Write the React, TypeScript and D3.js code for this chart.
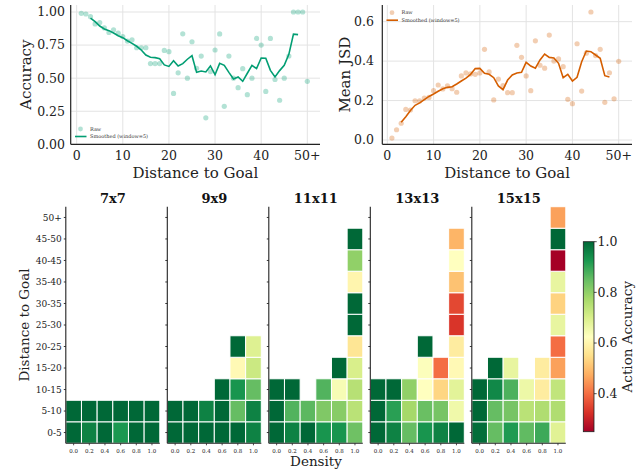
import React from "react";
import * as d3 from "d3";

// ---- top charts data ----
const distances = [1, 2, 3, 4, 5, 6, 7, 8, 9, 10, 11, 12, 13, 14, 15, 16, 17, 18, 19, 20,
  21, 22, 23, 24, 25, 26, 27, 28, 29, 30, 31, 32, 33, 34, 35, 36, 37, 38, 39, 40,
  41, 42, 43, 44, 45, 46, 47, 48, 49, 50];
const smoothDistances = [3, 4, 5, 6, 7, 8, 9, 10, 11, 12, 13, 14, 15, 16, 17, 18, 19, 20,
  21, 22, 23, 24, 25, 26, 27, 28, 29, 30, 31, 32, 33, 34, 35, 36, 37, 38, 39, 40,
  41, 42, 43, 44, 45, 46, 47, 48];

const accRaw = [0.99, 0.985, 0.965, 0.91, 0.92, 0.88, 0.845, 0.865, 0.84, 0.815,
  0.78, 0.79, 0.73, 0.73, 0.73, 0.61, 0.61, 0.61, 0.71, 0.70,
  0.385, 0.54, 0.835, 0.50, 0.775, 0.575, 0.667, 0.20, 0.55, 0.713,
  0.834, 0.287, 0.667, 0.50, 0.428, 0.572, 0.375, 0.50, 0.80, 0.75,
  0.40, 0.80, 0.49, 0.333, 0.50, 0.667, 1.0, 1.0, 1.0, 0.476];
const accSmooth = [0.954, 0.927, 0.894, 0.872, 0.859, 0.841, 0.821, 0.806, 0.783, 0.763,
  0.741, 0.713, 0.675, 0.658, 0.655, 0.647, 0.60, 0.589, 0.632, 0.592,
  0.61, 0.643, 0.67, 0.544, 0.554, 0.547, 0.592, 0.526, 0.612, 0.597,
  0.544, 0.494, 0.509, 0.476, 0.537, 0.597, 0.572, 0.652, 0.65, 0.559,
  0.509, 0.557, 0.597, 0.68, 0.833, 0.829];

const jsdRaw = [0.01, 0.052, 0.085, 0.155, 0.152, 0.199, 0.198, 0.213, 0.216, 0.25,
  0.279, 0.259, 0.274, 0.26, 0.242, 0.325, 0.34, 0.335, 0.333, 0.34,
  0.46, 0.345, 0.203, 0.309, 0.276, 0.24, 0.24, 0.48, 0.419, 0.325,
  0.25, 0.503, 0.379, 0.364, 0.532, 0.40, 0.411, 0.372, 0.206, 0.184,
  0.488, 0.248, 0.44, 0.649, 0.428, 0.46, 0.191, 0.341, 0.209, 0.399];
const jsdSmooth = [0.09, 0.118, 0.15, 0.176, 0.188, 0.205, 0.221, 0.233, 0.247, 0.26,
  0.267, 0.27, 0.284, 0.299, 0.314, 0.333, 0.362, 0.363, 0.338, 0.333,
  0.316, 0.274, 0.255, 0.304, 0.33, 0.34, 0.343, 0.394, 0.375, 0.364,
  0.406, 0.436, 0.419, 0.416, 0.389, 0.316, 0.333, 0.299, 0.318, 0.397,
  0.451, 0.448, 0.431, 0.414, 0.326, 0.319];

const xTicks = [0, 10, 20, 30, 40, 50];
const xTickLabels = ["0", "10", "20", "30", "40", "50+"];
const accTicks = [0, 0.25, 0.5, 0.75, 1.0];
const jsdTicks = [0, 0.2, 0.4, 0.6];

// ---- heatmap data ----
const gridSizes = ["7x7", "9x9", "11x11", "13x13", "15x15"];
const densities = ["0.0", "0.2", "0.4", "0.6", "0.8", "1.0"];
const distBins = ["0-5", "5-10", "10-15", "15-20", "20-25", "25-30", "30-35", "35-40", "40-45", "45-50", "50+"];
const _ = null;

// rows go 0-5 ... 50+, columns density 0.0 ... 1.0
const acc7 = [
  [1.0, 0.96, 1.0, 0.925, 1.0, 1.0],
  [1.0, 1.0, 1.0, 1.0, 1.0, 1.0],
  [_, _, _, _, _, _], [_, _, _, _, _, _], [_, _, _, _, _, _], [_, _, _, _, _, _],
  [_, _, _, _, _, _], [_, _, _, _, _, _], [_, _, _, _, _, _], [_, _, _, _, _, _], [_, _, _, _, _, _],
];
const acc9 = [
  [1.0, 1.0, 1.0, 1.0, 1.0, 0.96],
  [1.0, 1.0, 0.96, 1.0, 0.85, 0.96],
  [_, _, _, 1.0, 0.93, 0.85],
  [_, _, _, _, 0.61, 0.72],
  [_, _, _, _, 1.0, 0.69],
  [_, _, _, _, _, _], [_, _, _, _, _, _], [_, _, _, _, _, _], [_, _, _, _, _, _], [_, _, _, _, _, _], [_, _, _, _, _, _],
];
const acc11 = [
  [1.0, 0.96, 1.0, 0.93, 0.93, 0.84],
  [1.0, 0.87, 0.86, 0.82, 0.81, 0.745],
  [1.0, 1.0, _, 0.87, 0.64, 0.75],
  [_, _, _, _, 1.0, 0.70],
  [_, _, _, _, _, 0.565],
  [_, _, _, _, _, 1.0],
  [_, _, _, _, _, 1.0],
  [_, _, _, _, _, 0.60],
  [_, _, _, _, _, 0.80],
  [_, _, _, _, _, 1.0],
  [_, _, _, _, _, _],
];
const acc13 = [
  [1.0, 0.96, 0.85, 0.93, 0.96, 1.0],
  [1.0, 0.91, 0.775, 0.845, 0.83, 0.655],
  [1.0, 1.0, 0.80, 0.625, 0.535, 0.68],
  [_, _, _, 0.63, 0.40, 0.61],
  [_, _, _, 1.0, _, 0.58],
  [_, _, _, _, _, 0.33],
  [_, _, _, _, _, 0.355],
  [_, _, _, _, _, 0.505],
  [_, _, _, _, _, 0.625],
  [_, _, _, _, _, 0.485],
  [_, _, _, _, _, _],
];
const acc15 = [
  [0.99, 0.85, 0.92, 0.855, 0.89, 0.685],
  [1.0, 0.85, 0.83, 0.745, 0.76, 0.76],
  [1.0, 0.95, 0.875, 0.66, 0.58, 0.735],
  [_, 1.0, 0.67, _, 0.58, 0.46],
  [_, _, _, _, _, 0.40],
  [_, _, _, _, _, 0.67],
  [_, _, _, _, _, 0.53],
  [_, _, _, _, _, 0.67],
  [_, _, _, _, _, 0.25],
  [_, _, _, _, _, 1.0],
  [_, _, _, _, _, 0.46],
];
const heatData = [acc7, acc9, acc11, acc13, acc15];
const cbTicks = [0.4, 0.6, 0.8, 1.0];

const FONT = "DejaVu Serif, serif";
const GREEN = "#029E73";
const ORANGE = "#D55E00";
const GRID = "#e3e3e3";
const SPINE = "#222";

const vMin = 0.25, vMax = 1.0;
const colorScale = d3.scaleLinear<string>()
  .domain(d3.range(11).map(i => vMin + (vMax - vMin) * i / 10))
  .range(d3.schemeRdYlGn[11] as string[])
  .interpolate(d3.interpolateRgb);

function LinePanel(props: any) {
  const { left, right, top, bottom, xRange, yDomain, yRange, raw, smooth, color,
    yTicks, yFmt, yLabel, yLabelX, tickRight, legend } = props;
  const x = d3.scaleLinear().domain([0, 50]).range(xRange);
  const y = d3.scaleLinear().domain(yDomain).range(yRange);
  const line = d3.line<number>().x((d, i) => x(smoothDistances[i])).y(d => y(d));
  const cx = (left + right) / 2;
  const cy = (top + bottom) / 2;
  return (
    <g>
      {xTicks.map(t => (
        <line key={"gx" + t} x1={x(t)} x2={x(t)} y1={top} y2={bottom} stroke={GRID} strokeWidth={1} />
      ))}
      {yTicks.map((t: number) => (
        <line key={"gy" + t} x1={left} x2={right} y1={y(t)} y2={y(t)} stroke={GRID} strokeWidth={1} />
      ))}
      {raw.map((v: number, i: number) => (
        <circle key={"p" + i} cx={x(distances[i])} cy={y(v)} r={2.6} fill={color} fillOpacity={0.3} />
      ))}
      <path d={line(smooth) || ""} fill="none" stroke={color} strokeWidth={1.6} />
      <line x1={left} x2={left} y1={top} y2={bottom} stroke={SPINE} strokeWidth={1.2} />
      <line x1={left} x2={right} y1={bottom} y2={bottom} stroke={SPINE} strokeWidth={1.2} />
      {xTicks.map((t, i) => (
        <text key={"tx" + t} x={x(t)} y={160} textAnchor="middle" fontSize={12.5} fontFamily={FONT} fill="#222">
          {xTickLabels[i]}
        </text>
      ))}
      {yTicks.map((t: number) => (
        <text key={"ty" + t} x={tickRight} y={y(t)} dy="0.35em" textAnchor="end" fontSize={12.5} fontFamily={FONT} fill="#222">
          {yFmt(t)}
        </text>
      ))}
      <text x={cx} y={177.5} textAnchor="middle" fontSize={15} fontFamily={FONT} fill="#222">Distance to Goal</text>
      <text transform={`translate(${yLabelX},${cy}) rotate(-90)`} textAnchor="middle" dy="0.35em"
        fontSize={15} fontFamily={FONT} fill="#222">{yLabel}</text>
      <g fontFamily={FONT} fontSize={5} fill="#333">
        <circle cx={legend.x + 5.5} cy={legend.y} r={2.4} fill={color} fillOpacity={0.3} />
        <text x={legend.x + 15} y={legend.y} dy="0.35em">Raw</text>
        <line x1={legend.x} x2={legend.x + 11.5} y1={legend.y + 7.5} y2={legend.y + 7.5} stroke={color} strokeWidth={1.6} />
        <text x={legend.x + 15} y={legend.y + 7.5} dy="0.35em">Smoothed (window=5)</text>
      </g>
    </g>
  );
}

function HeatPanel({ idx }: { idx: number }) {
  const hmTop = 206.7, hmBottom = 443.3, panelW = 94;
  const left = 65.8 + idx * 101.5;
  const x = d3.scaleBand<string>().domain(densities).range([left, left + panelW]);
  const y = d3.scaleBand<string>().domain(distBins).range([hmBottom, hmTop]);
  const data = heatData[idx];
  return (
    <g>
      {data.map((row, r) => row.map((v, c) => v === null ? null : (
        <rect key={r + "-" + c} x={x(densities[c])} y={y(distBins[r])} width={x.bandwidth()} height={y.bandwidth()}
          fill={colorScale(v)} stroke="#fff" strokeWidth={1} />
      )))}
      <line x1={left} x2={left} y1={hmTop} y2={hmBottom} stroke={SPINE} strokeWidth={1.1} />
      <line x1={left} x2={left + panelW} y1={hmBottom} y2={hmBottom} stroke={SPINE} strokeWidth={1.1} />
      {distBins.map(b => (
        <line key={"yt" + b} x1={left - 2} x2={left} y1={(y(b) as number) + y.bandwidth() / 2}
          y2={(y(b) as number) + y.bandwidth() / 2} stroke={SPINE} strokeWidth={0.9} />
      ))}
      {idx === 0 && distBins.map(b => (
        <text key={"yl" + b} x={left - 4} y={(y(b) as number) + y.bandwidth() / 2} dy="0.35em" textAnchor="end"
          fontSize={9} fontFamily={FONT} fill="#222">{b}</text>
      ))}
      {densities.map(d => (
        <g key={"xt" + d}>
          <line x1={(x(d) as number) + x.bandwidth() / 2} x2={(x(d) as number) + x.bandwidth() / 2}
            y1={hmBottom} y2={hmBottom + 2} stroke={SPINE} strokeWidth={0.8} />
          <text x={(x(d) as number) + x.bandwidth() / 2} y={453} textAnchor="middle" fontSize={5.5}
            fontFamily={FONT} fill="#222">{d}</text>
        </g>
      ))}
      <text x={left + panelW / 2} y={203} textAnchor="middle" fontSize={13} fontWeight="bold"
        fontFamily={FONT} fill="#111">{gridSizes[idx]}</text>
    </g>
  );
}

function ColorBar() {
  const x0 = 583.3, w = 10.7, top = 241.7, bottom = 431.7;
  const y = d3.scaleLinear().domain([vMin, vMax]).range([bottom, top]);
  const stops = d3.range(21).map(i => vMin + (vMax - vMin) * i / 20);
  return (
    <g>
      <defs>
        <linearGradient id="cbgrad" x1="0" y1="1" x2="0" y2="0">
          {stops.map((s, i) => (
            <stop key={i} offset={`${(i / 20) * 100}%`} stopColor={colorScale(s)} />
          ))}
        </linearGradient>
      </defs>
      <rect x={x0} y={top} width={w} height={bottom - top} fill="url(#cbgrad)" stroke={SPINE} strokeWidth={0.8} />
      {cbTicks.map(t => (
        <g key={t}>
          <line x1={x0 + w} x2={x0 + w + 2.7} y1={y(t)} y2={y(t)} stroke={SPINE} strokeWidth={0.8} />
          <text x={x0 + w + 3.5} y={y(t)} dy="0.35em" fontSize={12.5} fontFamily={FONT} fill="#222">{t.toFixed(1)}</text>
        </g>
      ))}
      <text transform={`translate(627,${(top + bottom) / 2}) rotate(-90)`} textAnchor="middle" dy="0.35em"
        fontSize={13.5} fontFamily={FONT} fill="#222">Action Accuracy</text>
    </g>
  );
}

export default function App() {
  return (
    <svg width={640} height={473} style={{ position: "absolute", left: 0, top: 0, background: "#fff" }}>
      <rect width={640} height={473} fill="#fff" />
      <LinePanel left={70.7} right={320} top={5} bottom={144.3} xRange={[76.67, 307.3]}
        yDomain={[0, 1]} yRange={[144.33, 12]} raw={accRaw} smooth={accSmooth} color={GREEN}
        yTicks={accTicks} yFmt={(t: number) => t.toFixed(2)} yLabel="Accuracy" yLabelX={26}
        tickRight={65} legend={{ x: 75, y: 129 }} />
      <LinePanel left={382.3} right={632} top={5} bottom={144.3} xRange={[387.3, 618.7]}
        yDomain={[0, 0.6]} yRange={[140, 21.67]} raw={jsdRaw} smooth={jsdSmooth} color={ORANGE}
        yTicks={jsdTicks} yFmt={(t: number) => t.toFixed(1)} yLabel="Mean JSD" yLabelX={345}
        tickRight={374} legend={{ x: 386.5, y: 12.7 }} />
      {gridSizes.map((g, i) => <HeatPanel key={g} idx={i} />)}
      <text transform="translate(24.2,325) rotate(-90)" textAnchor="middle" dy="0.35em" fontSize={13.5}
        fontFamily={FONT} fill="#222">Distance to Goal</text>
      <text x={316} y={466} textAnchor="middle" fontSize={13.5} fontFamily={FONT} fill="#222">Density</text>
      <ColorBar />
    </svg>
  );
}
